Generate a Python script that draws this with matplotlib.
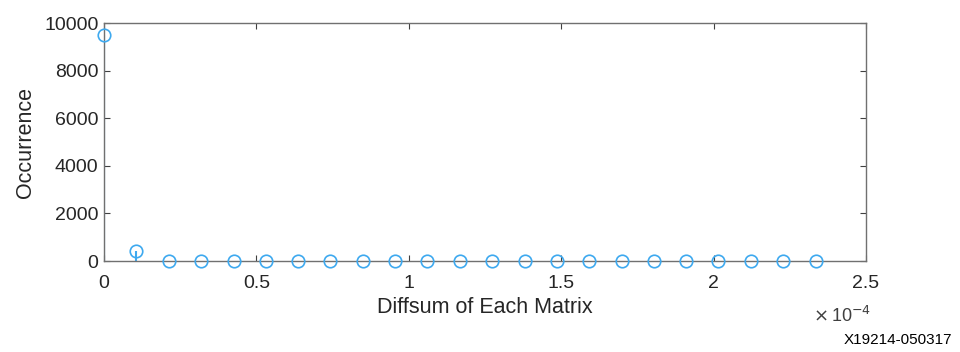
import numpy as np
import matplotlib.pyplot as plt

# Diffsum bins (x) and occurrence counts
diffsum = [0.0, 1.06e-5, 2.12e-5, 3.18e-5, 4.25e-5, 5.31e-5, 6.37e-5, 7.43e-5,
           8.49e-5, 9.55e-5, 1.061e-4, 1.167e-4, 1.274e-4, 1.380e-4, 1.486e-4,
           1.592e-4, 1.698e-4, 1.804e-4, 1.910e-4, 2.016e-4, 2.123e-4, 2.229e-4,
           2.335e-4]
occurrence = [9500, 430, 15, 10, 8, 6, 8, 5, 3, 3, 2, 2, 2, 2, 2,
              2, 4, 2, 2, 2, 3, 2, 2]
xticks = [0, 0.5e-4, 1e-4, 1.5e-4, 2e-4, 2.5e-4]
xtick_labels = ["0", "0.5", "1", "1.5", "2", "2.5"]
yticks = [0, 2000, 4000, 6000, 8000, 10000]

plt.rcParams['font.family'] = ['Liberation Sans', 'DejaVu Sans']
blue = '#3ea9ef'
grey = '#404040'

fig = plt.figure(figsize=(9.6, 3.52), dpi=100)
ax = fig.add_axes([104 / 960, 1 - 261 / 352, 762 / 960, 238 / 352])

ml, sl, bl = ax.stem(diffsum, occurrence, basefmt=' ')
plt.setp(sl, color=blue, linewidth=1.5)
plt.setp(ml, color=blue, marker='o', markerfacecolor='none',
         markeredgecolor=blue, markersize=9, markeredgewidth=1.2, clip_on=False,
         zorder=5)

ax.set_xlim(0, 2.5e-4)
ax.set_ylim(0, 10000)
ax.set_xticks(xticks)
ax.set_xticklabels(xtick_labels)
ax.set_yticks(yticks)
ax.tick_params(direction='in', top=True, right=True, length=4, width=0.8,
               colors=grey, labelsize=14, labelcolor='#262626', pad=4)
ax.tick_params(axis='x', pad=10)
for s in ax.spines.values():
    s.set_color('#707070')
    s.set_linewidth(1.0)

ax.set_xlabel('Diffsum of Each Matrix', fontsize=15.5, color='#262626', labelpad=4)
ax.set_ylabel('Occurrence', fontsize=15.5, color='#262626', labelpad=6)

fig.text(813 / 960, 1 - 316 / 352, r'$\times\,$10$^{-4}$', fontsize=13,
         color='#404040', ha='left', va='center')
fig.text(952 / 960, 1 - 340 / 352, 'X19214-050317', fontsize=11,
         color='black', ha='right', va='center')

fig.savefig('out.png', dpi=100)
